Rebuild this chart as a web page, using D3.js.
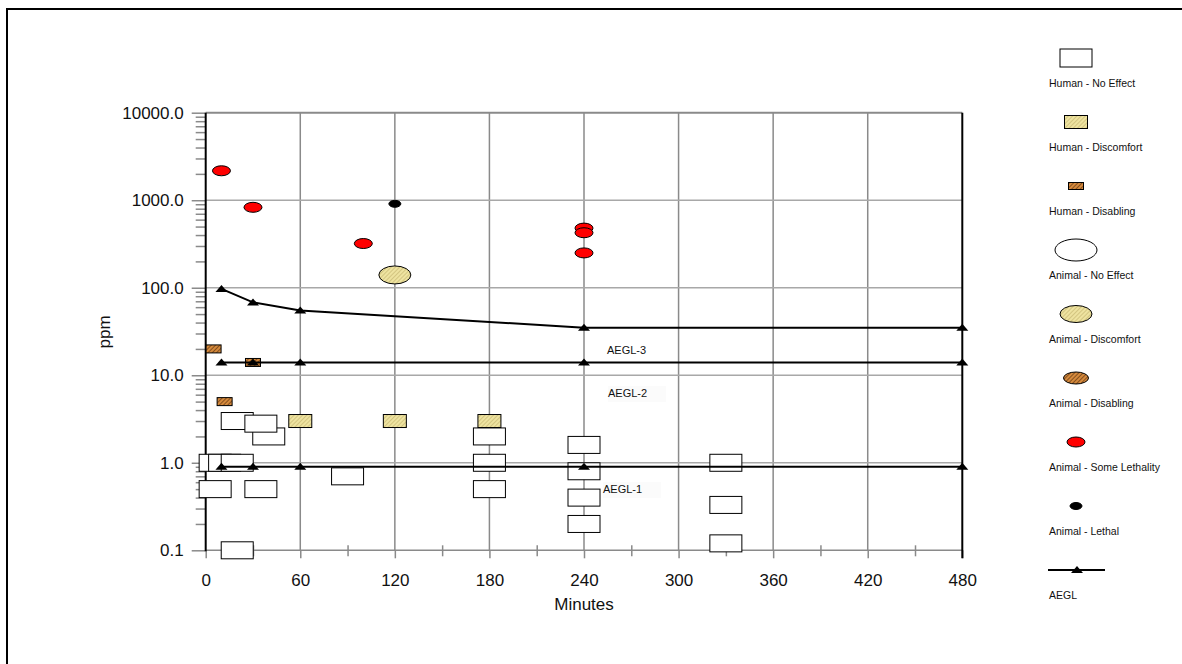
<!DOCTYPE html>
<html><head><meta charset="utf-8">
<script src="https://cdn.jsdelivr.net/npm/d3@7"></script>
<style>
body{margin:0;background:#fff;overflow:hidden}
svg{display:block}
text{font-family:"Liberation Sans",Arial,sans-serif;fill:#111}
</style>
</head><body>
<svg id="chart" width="1182" height="664"></svg>
<script>
// ---------- data ----------
const xTickValues = [0, 60, 120, 180, 240, 300, 360, 420, 480];
const xMinorValues = [30, 90, 150, 210, 270, 330, 390, 450];
const yTickValues = [0.1, 1, 10, 100, 1000, 10000];

const humanNoEffectMin = [6, 20, 12, 20, 35, 40, 6, 35, 90, 20, 180, 180, 180, 240, 240, 240, 240, 330, 330, 330];
const humanNoEffectPpm = [1.0, 1.0, 1.0, 3.0, 2.8, 2.0, 0.5, 0.5, 0.7, 0.1, 2.0, 1.0, 0.5, 1.6, 0.8, 0.4, 0.2, 1.0, 0.33, 0.12];
const humanNoEffectOrder = [0, 2, 1, 5, 3, 4, 6, 7, 8, 9, 10, 11, 12, 13, 14, 15, 16, 17, 18, 19];

const humanDiscomfortMin = [60, 120, 180];
const humanDiscomfortPpm = [3.0, 3.0, 3.0];

const humanDisablingMin = [5, 30, 12];
const humanDisablingPpm = [20, 14, 5.0];

const animalDiscomfortMin = [120];
const animalDiscomfortPpm = [140];

const animalSomeLethalMin = [10, 30, 100, 240, 240, 240];
const animalSomeLethalPpm = [2170, 830, 320, 480, 425, 250];

const animalLethalMin = [120];
const animalLethalPpm = [910];

const aeglMin = [10, 30, 60, 240, 480];
const aegl3Ppm = [97, 68, 55, 35, 35];
const aegl2Ppm = [14, 14, 14, 14, 14];
const aegl1Ppm = [0.9, 0.9, 0.9, 0.9, 0.9];
const aeglLabels = ["AEGL-3", "AEGL-2", "AEGL-1"];

const legendLabels = ["Human - No Effect", "Human - Discomfort", "Human - Disabling",
  "Animal - No Effect", "Animal - Discomfort", "Animal - Disabling",
  "Animal - Some Lethality", "Animal - Lethal", "AEGL"];

// ---------- setup ----------
const svg = d3.select("#chart");
const L = 205.7, R = 962.3, T = 112.7, B = 550.3;
const x = d3.scaleLinear().domain([0, 480]).range([L, R]);
const y = d3.scaleLog().domain([0.1, 10000]).range([B, T]);

// patterns
const defs = svg.append("defs");
function hatch(id, bg, fg, w) {
  const p = defs.append("pattern").attr("id", id).attr("patternUnits", "userSpaceOnUse")
    .attr("width", 3).attr("height", 3).attr("patternTransform", "rotate(45)");
  p.append("rect").attr("width", 3).attr("height", 3).attr("fill", bg);
  p.append("line").attr("x1", 0).attr("y1", 0).attr("x2", 0).attr("y2", 3)
    .attr("stroke", fg).attr("stroke-width", w);
}
hatch("hYellow", "#eee3a0", "#b8a762", 1);
hatch("hBrown", "#d58a3c", "#5a2f0e", 1.3);

// outer frame (top and left edges only visible)
svg.append("path").attr("d", "M7,664V9H1182").attr("fill", "none")
  .attr("stroke", "#000").attr("stroke-width", 2);

// gridlines
const g = svg.append("g");
g.selectAll("line.vg").data(xTickValues.filter(d => d > 0 && d < 480)).enter().append("line")
  .attr("x1", d => x(d)).attr("x2", d => x(d)).attr("y1", T).attr("y2", B)
  .attr("stroke", "#8a8a8a").attr("stroke-width", 1.5);
g.selectAll("line.hg").data(yTickValues.filter(d => d > 0.1)).enter().append("line")
  .attr("x1", L).attr("x2", R).attr("y1", d => y(d)).attr("y2", d => y(d))
  .attr("stroke", d => d === 10000 ? "#8a8a8a" : "#a8a8a8").attr("stroke-width", d => d === 10000 ? 2 : 1.5);

// y axis
const yMinor = [];
[0.1, 1, 10, 100, 1000].forEach(dec => { for (let k = 2; k <= 9; k++) yMinor.push(dec * k); });
const yAxisMinor = svg.append("g").attr("transform", `translate(${L},0)`)
  .call(d3.axisLeft(y).tickValues(yMinor).tickSize(10).tickFormat(""));
const yAxis = svg.append("g").attr("transform", `translate(${L},0)`)
  .call(d3.axisLeft(y).tickValues(yTickValues).tickSize(14).tickPadding(8).tickFormat(d3.format(".1f")));
[yAxisMinor, yAxis].forEach(a => {
  a.select(".domain").remove();
  a.selectAll(".tick line").attr("stroke", "#8a8a8a").attr("stroke-width", 1.5);
});
yAxis.selectAll("text").attr("font-size", 17).attr("fill", "#111")
  .attr("font-family", '"Liberation Sans", Arial, sans-serif');

// x axis
const xAxisMinor = svg.append("g").attr("transform", `translate(0,${B - 5})`)
  .call(d3.axisBottom(x).tickValues(xMinorValues).tickSize(11).tickFormat(""));
const xAxis = svg.append("g").attr("transform", `translate(0,${B})`)
  .call(d3.axisBottom(x).tickValues(xTickValues).tickSize(8).tickPadding(16));
[xAxisMinor, xAxis].forEach(a => {
  a.select(".domain").remove();
  a.selectAll(".tick line").attr("stroke", "#8a8a8a").attr("stroke-width", 1.5);
});
xAxis.selectAll("text").attr("font-size", 17).attr("fill", "#111")
  .attr("font-family", '"Liberation Sans", Arial, sans-serif');
svg.append("line").attr("x1", L).attr("x2", R).attr("y1", B).attr("y2", B)
  .attr("stroke", "#8a8a8a").attr("stroke-width", 1.5);

// axis lines (black)
svg.append("line").attr("x1", L).attr("x2", L).attr("y1", T).attr("y2", B + 1)
  .attr("stroke", "#000").attr("stroke-width", 2);
svg.append("line").attr("x1", x(480)).attr("x2", x(480)).attr("y1", T).attr("y2", B + 8)
  .attr("stroke", "#000").attr("stroke-width", 2);

// axis titles
svg.append("text").attr("transform", "translate(110,332) rotate(-90)")
  .attr("text-anchor", "middle").attr("font-size", 17).text("ppm");
svg.append("text").attr("x", (L + R) / 2).attr("y", 610)
  .attr("text-anchor", "middle").attr("font-size", 17).text("Minutes");

// ---------- data marks ----------
const marks = svg.append("g");
function rects(mins, ppms, w, h, fill, order) {
  const idx = order || mins.map((_, i) => i);
  marks.selectAll(null).data(idx).enter().append("rect")
    .attr("x", i => x(mins[i]) - w / 2).attr("y", i => y(ppms[i]) - h / 2)
    .attr("width", w).attr("height", h)
    .attr("fill", fill).attr("stroke", "#000").attr("stroke-width", 1);
}
function ellipses(mins, ppms, rx, ry, fill) {
  marks.selectAll(null).data(mins.map((_, i) => i)).enter().append("ellipse")
    .attr("cx", i => x(mins[i])).attr("cy", i => y(ppms[i]))
    .attr("rx", rx).attr("ry", ry)
    .attr("fill", fill).attr("stroke", "#000").attr("stroke-width", 1);
}
rects(humanNoEffectMin, humanNoEffectPpm, 32, 17, "#fff", humanNoEffectOrder);
rects(humanDiscomfortMin, humanDiscomfortPpm, 23, 13, "url(#hYellow)");
rects(humanDisablingMin, humanDisablingPpm, 15, 8, "url(#hBrown)");
ellipses(animalDiscomfortMin, animalDiscomfortPpm, 16, 9, "url(#hYellow)");
ellipses(animalSomeLethalMin, animalSomeLethalPpm, 9, 5, "#ff0000");
ellipses(animalLethalMin, animalLethalPpm, 6, 3.5, "#000");

// AEGL lines
const tri = "M0,-4L6,3L-6,3Z";
const line = d3.line().x(d => x(d[0])).y(d => y(d[1]));
[aegl3Ppm, aegl2Ppm, aegl1Ppm].forEach(ppm => {
  const pts = aeglMin.map((m, i) => [m, ppm[i]]);
  svg.append("path").attr("d", line(pts)).attr("fill", "none")
    .attr("stroke", "#000").attr("stroke-width", 2);
  svg.selectAll(null).data(pts).enter().append("path")
    .attr("d", tri).attr("transform", d => `translate(${x(d[0])},${y(d[1])})`)
    .attr("fill", "#000");
});

// AEGL labels
const aeglLabelPos = [[607, 354], [608, 397], [603, 493]];
aeglLabels.forEach((t, i) => {
  if (i > 0) svg.append("rect").attr("x", aeglLabelPos[i][0]).attr("y", aeglLabelPos[i][1] - 11)
    .attr("width", 58).attr("height", 16).attr("fill", "#fbfbfb");
  svg.append("text").attr("x", aeglLabelPos[i][0]).attr("y", aeglLabelPos[i][1])
    .attr("font-size", 11).text(t);
});

// ---------- legend ----------
const lg = svg.append("g");
const lx = 1076, ly0 = 87, step = 64;
legendLabels.forEach((t, i) => {
  lg.append("text").attr("x", 1049).attr("y", ly0 + i * step).attr("font-size", 10.5).text(t);
});
const sy = i => ly0 + i * step - 29;
const legSym = [
  {t: "rect", w: 32, h: 18, f: "#fff"},
  {t: "rect", w: 23, h: 13, f: "url(#hYellow)"},
  {t: "rect", w: 15, h: 7, f: "url(#hBrown)"},
  {t: "ell", w: 42, h: 22, f: "#fff"},
  {t: "ell", w: 32, h: 17, f: "url(#hYellow)"},
  {t: "ell", w: 25, h: 12, f: "url(#hBrown)"},
  {t: "ell", w: 18, h: 10, f: "#ff0000"},
  {t: "ell", w: 12, h: 7, f: "#000"}
];
legSym.forEach((s, i) => {
  if (s.t === "rect") lg.append("rect").attr("x", lx - s.w / 2).attr("y", sy(i) - s.h / 2)
    .attr("width", s.w).attr("height", s.h).attr("fill", s.f).attr("stroke", "#000");
  else lg.append("ellipse").attr("cx", lx).attr("cy", sy(i)).attr("rx", s.w / 2).attr("ry", s.h / 2)
    .attr("fill", s.f).attr("stroke", "#000");
});
lg.append("line").attr("x1", 1048).attr("x2", 1105).attr("y1", sy(8)).attr("y2", sy(8))
  .attr("stroke", "#000").attr("stroke-width", 2);
lg.append("path").attr("d", tri).attr("transform", `translate(1077,${sy(8)})`).attr("fill", "#000");
</script>
</body></html>
